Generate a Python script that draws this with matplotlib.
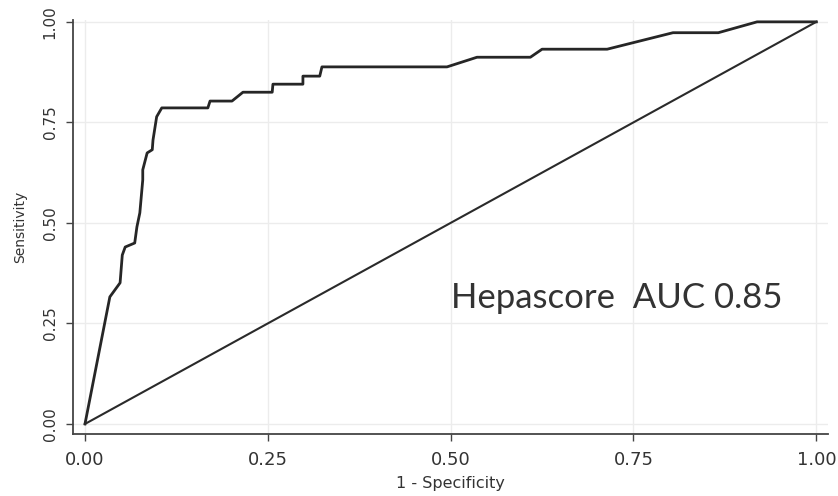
import matplotlib
matplotlib.use("Agg")
import matplotlib.pyplot as plt

# ROC curve points (1 - specificity, sensitivity)
fpr = [0.0, 0.034, 0.048, 0.051, 0.055, 0.068, 0.071, 0.075, 0.079, 0.079, 0.085, 0.092,
       0.093, 0.098, 0.105, 0.168, 0.171, 0.201, 0.216, 0.256, 0.257, 0.298, 0.298, 0.321,
       0.324, 0.495, 0.536, 0.609, 0.625, 0.714, 0.804, 0.866, 0.919, 1.0]
tpr = [0.0, 0.316, 0.351, 0.420, 0.440, 0.450, 0.490, 0.525, 0.607, 0.632, 0.674, 0.682,
       0.706, 0.764, 0.786, 0.786, 0.803, 0.803, 0.825, 0.825, 0.845, 0.845, 0.865, 0.865,
       0.888, 0.888, 0.912, 0.912, 0.932, 0.932, 0.973, 0.973, 1.0, 1.0]
ref_x = [0.0, 1.0]
ref_y = [0.0, 1.0]
ticks = [0.0, 0.25, 0.5, 0.75, 1.0]
tick_labels = ["0.00", "0.25", "0.50", "0.75", "1.00"]
annotation = "Hepascore  AUC 0.85"

fig = plt.figure(figsize=(8.38, 4.96), dpi=100)
ax = fig.add_axes([0.0871, 0.125, 0.901, 0.835])

ax.plot(fpr, tpr, color="#262626", lw=2.0, solid_joinstyle="round")
ax.plot(ref_x, ref_y, color="#2a2a2a", lw=1.5)

ax.set_xlim(-0.0164, 1.016)
ax.set_ylim(-0.025, 1.005)
ax.set_xticks(ticks)
ax.set_xticklabels(tick_labels, fontsize=13)
ax.set_yticks(ticks)
ax.set_yticklabels(tick_labels, rotation=90, va="center", fontsize=11)

ax.grid(True, color="#ececec", lw=1.0)
ax.set_axisbelow(True)
for s in ["top", "right"]:
    ax.spines[s].set_visible(False)
for s in ["left", "bottom"]:
    ax.spines[s].set_color("#444444")
    ax.spines[s].set_linewidth(1.3)
ax.tick_params(axis="both", length=5, width=1.0, color="#444444",
               labelcolor="#333333")
ax.tick_params(axis="x", pad=7)
ax.tick_params(axis="y", pad=6)

ax.set_xlabel("1 - Specificity", fontsize=11.5, color="#333333", labelpad=5)
ax.set_ylabel("Sensitivity", fontsize=10, color="#333333", labelpad=11)

ax.text(0.50, 0.289, annotation, fontsize=25, family="Lato", color="#333333",
        ha="left", va="baseline")

fig.savefig("out.png", dpi=100)
